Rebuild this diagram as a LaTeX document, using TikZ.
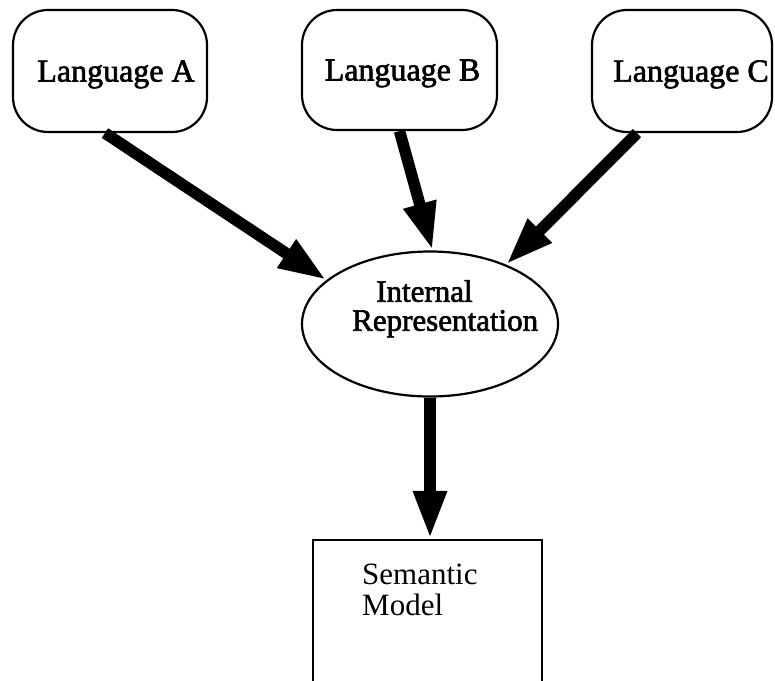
\documentclass[tikz,border=0pt]{standalone}
\usepackage{fontspec}
\setmainfont{Liberation Serif}
\newfontfamily\heavyserif[FakeBold=2]{Liberation Serif}
\usetikzlibrary{arrows.meta,shapes.geometric}

\tikzset{
  x=1pt, y=-1pt,
  outline/.style={draw=black, line width=2.2pt, fill=white},
  langbox/.style={outline, rounded corners=35pt, inner sep=0pt,
    font=\heavyserif\fontsize{32}{32}\selectfont, text depth=0pt},
  flow/.style={line width=11.5pt,
    -{Triangle[length=48pt, width=31pt]}},
  label/.style={inner sep=0pt, align=left}
}

\begin{document}
\begin{tikzpicture}
  \useasboundingbox (0,0) rectangle (775,680);
  \clip (0,0) rectangle (775,680);
  \fill[white] (0,0) rectangle (775,680);

  % source languages
  \node[langbox, minimum width=194pt, minimum height=122pt] (la) at (110,71) {\hspace*{12pt}Language A};
  \node[langbox, minimum width=195pt, minimum height=120pt] (lb) at (399.5,70) {\hspace*{6pt}Language B};
  \node[langbox, minimum width=180pt, minimum height=122pt] (lc) at (682,71) {\hspace*{18pt}Language C};

  % shared internal form
  \node[outline, ellipse, inner sep=0pt, minimum width=256pt, minimum height=145pt] (ir) at (430,324) {};
  \node[label, anchor=north west, font=\heavyserif\fontsize{31}{29}\selectfont] (irtext) at (352,280)
    {\hspace*{24pt}Internal\\Representation};

  % target model
  \node[outline, rectangle, inner sep=0pt, minimum width=229pt, minimum height=170pt] (sm) at (427.5,625) {};
  \node[label, anchor=north west, font=\fontsize{31}{31}\selectfont] (smtext) at (362,564)
    {Semantic\\Model};

  % translations
  \draw[flow] ([xshift=-5pt]la.south) -- (ir.157);
  \draw[flow] (lb.south) -- (ir.88);
  \draw[flow] ([xshift=-45pt]lc.south) -- (ir.38);
  \draw[flow] (ir.south) -- (ir.south |- sm.north);
\end{tikzpicture}
\end{document}
